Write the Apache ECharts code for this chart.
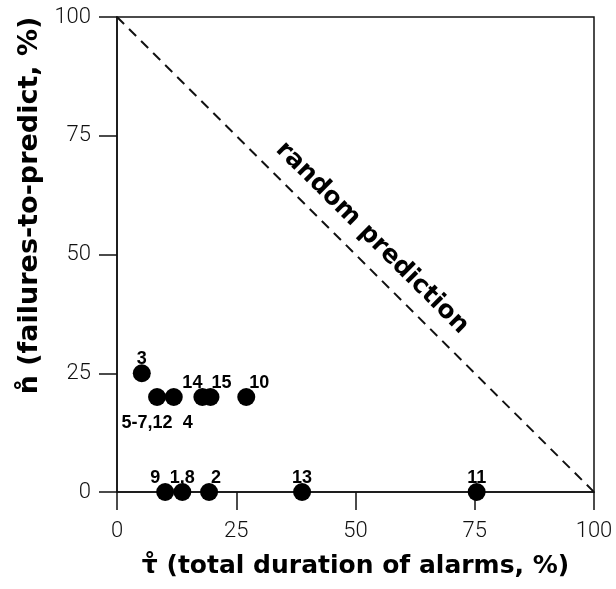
<!DOCTYPE html>
<html>
<head>
<meta charset="utf-8">
<script src="https://cdn.jsdelivr.net/npm/echarts@6/dist/echarts.min.js"></script>
<style>
  html, body { margin: 0; padding: 0; background: #fff; }
  #main { width: 616px; height: 589px; }
</style>
</head>
<body>
<div id="main"></div>
<script>
// event labels and their (alarm duration %, failures-to-predict %) values
var labels = ['3', '5-7,12', '4', '14', '15', '10', '9', '1,8', '2', '13', '11'];
var alarmDuration = [5.2, 8.4, 11.9, 17.9, 19.6, 27.1, 10.1, 13.7, 19.3, 38.8, 75.4];
var failures = [25, 20, 20, 20, 20, 20, 0, 0, 0, 0, 0];
// where each number sits relative to its dot
var labelPos = ['top', 'bottom', 'bottom', 'top', 'top', 'top', 'top', 'top', 'top', 'top', 'top'];
var labelShift = [[0, 4], [-10, 8], [14, 8], [-10, 4], [11, 4], [13, 4], [-10, 4], [0, 4], [7, 4], [0, 4], [0, 4]];

var points = labels.map(function (name, i) {
    return {
        value: [alarmDuration[i], failures[i]],
        label: { position: labelPos[i], offset: labelShift[i] }
    };
});

var tickFont = { fontFamily: 'Roboto', fontWeight: 300, fontSize: 22, color: '#111' };

var myChart = echarts.init(document.getElementById('main'));
myChart.setOption({
    animation: false,
    grid: {
        left: 117, right: 22, top: 17, bottom: 97,
        show: true, borderColor: '#111', borderWidth: 1.5, backgroundColor: 'transparent'
    },
    xAxis: {
        type: 'value', min: 0, max: 100, interval: 25,
        name: '\u03C4\u030A (total duration of alarms, %)',
        nameLocation: 'middle', nameGap: 62,
        nameTextStyle: { fontFamily: 'DejaVu Sans', fontWeight: 'bold', fontSize: 25, color: '#000' },
        axisLine: { onZero: false, lineStyle: { color: '#111', width: 1.5 } },
        axisTick: { inside: false, length: 18, lineStyle: { color: '#111', width: 1.5 } },
        axisLabel: Object.assign({ margin: 28 }, tickFont),
        splitLine: { show: false }
    },
    yAxis: {
        type: 'value', min: 0, max: 100, interval: 25,
        name: 'n\u030A (failures-to-predict, %)',
        nameLocation: 'middle', nameGap: 56,
        nameTextStyle: {
            fontFamily: 'DejaVu Sans', fontWeight: 'bold', fontSize: 27, color: '#000',
            padding: [0, 0, 0, 98]
        },
        axisLine: { onZero: false, lineStyle: { color: '#111', width: 1.5 } },
        axisTick: { inside: false, length: 18, lineStyle: { color: '#111', width: 1.5 } },
        axisLabel: Object.assign({ margin: 26 }, tickFont),
        splitLine: { show: false }
    },
    series: [
        {
            type: 'scatter',
            symbolSize: 18,
            itemStyle: { color: '#000', opacity: 1 },
            label: {
                show: true,
                distance: 0,
                formatter: function (p) { return labels[p.dataIndex]; },
                fontFamily: 'Liberation Sans', fontWeight: 'bold', fontSize: 18, color: '#000'
            },
            data: points,
            z: 5,
            markLine: {
                silent: true,
                symbol: 'none',
                lineStyle: { type: [10, 7], color: '#111', width: 2 },
                label: {
                    show: true,
                    position: 'middle',
                    distance: 11,
                    formatter: 'random prediction',
                    fontFamily: 'DejaVu Sans', fontWeight: 'bold', fontSize: 25, color: '#000'
                },
                data: [[{ coord: [0, 100] }, { coord: [100, 0] }]]
            }
        }
    ]
});
</script>
</body>
</html>
